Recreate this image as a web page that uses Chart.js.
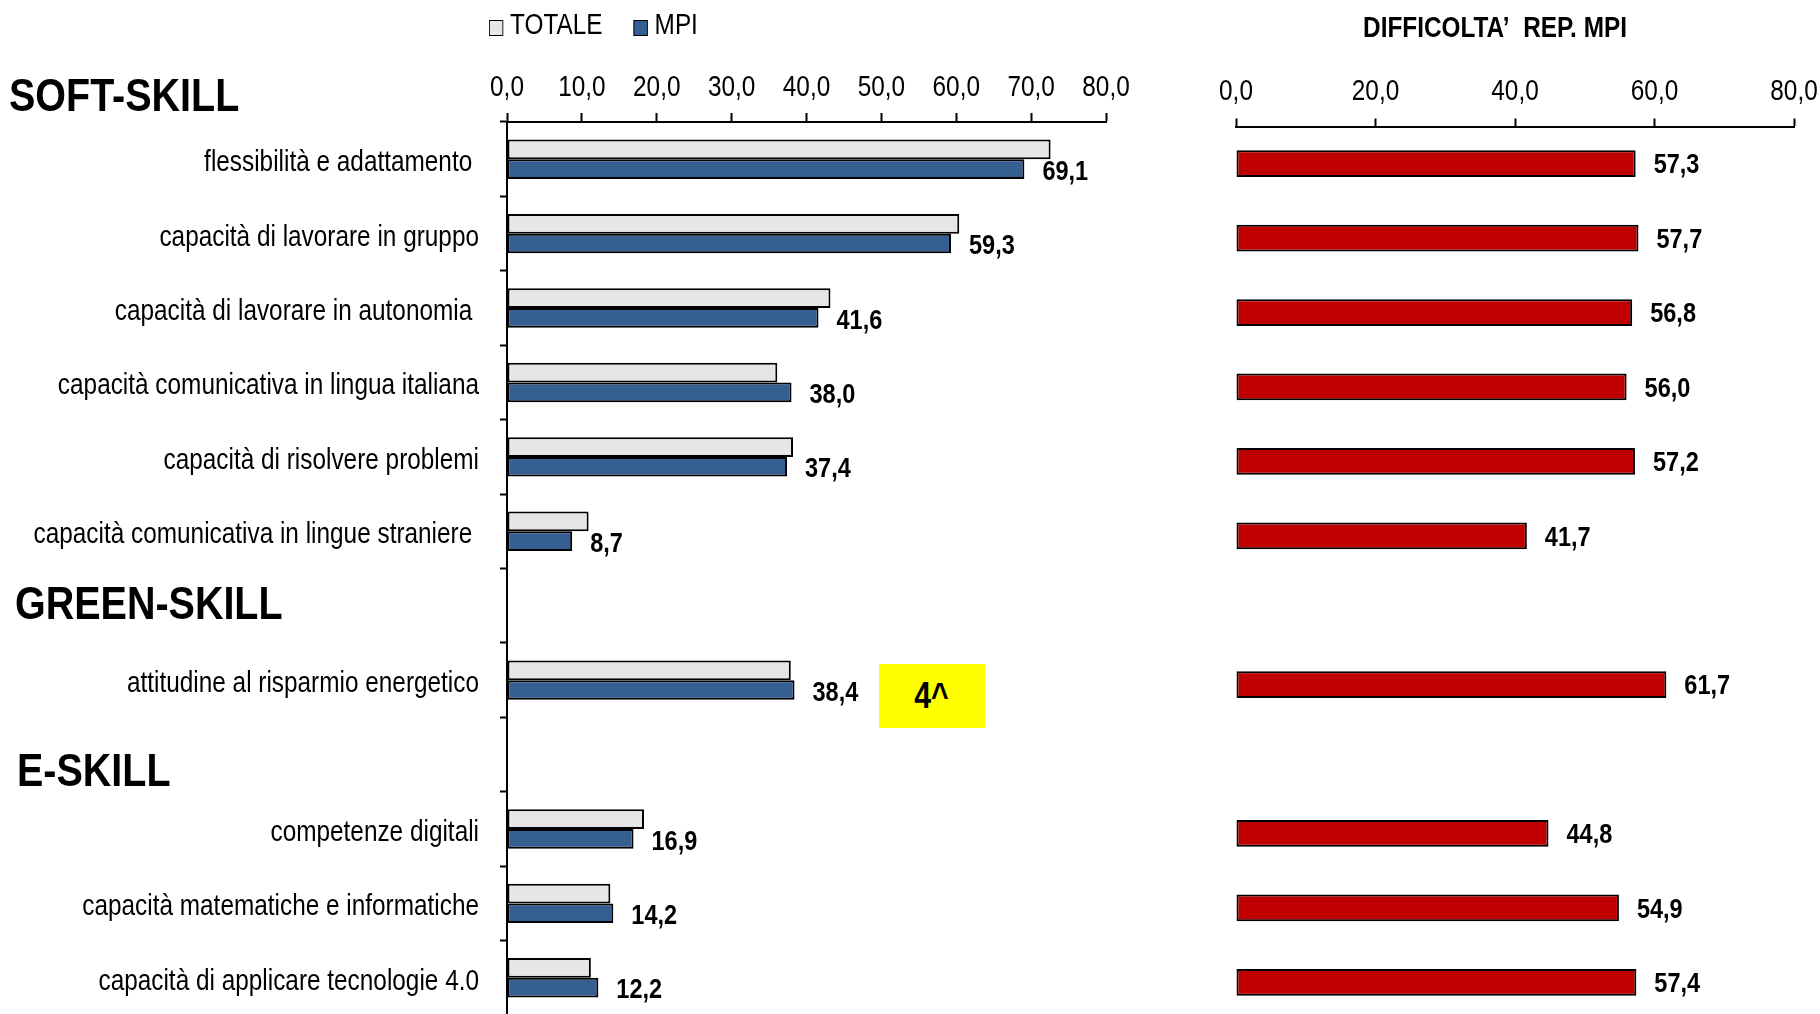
<!DOCTYPE html>
<html lang="it">
<head>
<meta charset="utf-8">
<title>Competenze richieste e difficoltà di reperimento MPI</title>
<script src="https://cdn.jsdelivr.net/npm/chart.js@4.4.1/dist/chart.umd.min.js"></script>
<style>
  html, body { margin: 0; padding: 0; background: #fff; overflow: hidden; }
  body { position: relative; width: 1820px; height: 1014px; color: #000;
         font-family: 'Liberation Sans Narrow', 'Arial Narrow', 'Liberation Sans', Arial, sans-serif; }
  canvas { position: absolute; top: 0; }
  #graficoSx { left: 0; }
  #graficoDx { left: 1150px; }
  /* il carattere "narrow" non c'è: si stringe il testo in orizzontale */
  #legenda { position: absolute; left: 489px; top: 8px; font-size: 29px; line-height: 32px; white-space: nowrap;
             transform: scaleX(0.84); transform-origin: 0 0; }
  #legenda span.voce { display: inline-block; margin-right: 37px; }
  #legenda span.box { display: inline-block; width: 15px; height: 14px; border: 1.5px solid #000;
                      margin-right: 8px; vertical-align: -2px; }
  #rango { position: absolute; left: 879px; top: 664px; width: 106px; height: 64px; background: #ffff00;
           font-weight: bold; font-size: 36px; line-height: 64px; text-align: center; }
  #rango span { display: inline-block; transform: scaleX(0.84); }
</style>
</head>
<body>
<canvas id="graficoSx" width="1146" height="1055"></canvas>
<canvas id="graficoDx" width="684" height="1025"></canvas>
<div id="legenda"></div>
<div id="rango"><span>4^</span></div>
<script>
// Dati (quota % di imprese che richiedono la competenza)
const categorie = [
  'flessibilità e adattamento ',
  'capacità di lavorare in gruppo',
  'capacità di lavorare in autonomia ',
  'capacità comunicativa in lingua italiana',
  'capacità di risolvere problemi',
  'capacità comunicativa in lingue straniere ',
  '',
  'attitudine al risparmio energetico',
  '',
  'competenze digitali',
  'capacità matematiche e informatiche',
  'capacità di applicare tecnologie 4.0'
];
const totale = [72.6, 60.4, 43.2, 36.1, 38.2, 10.9, null, 37.9, null, 18.3, 13.8, 11.2];
const mpi = [69.1, 59.3, 41.6, 38.0, 37.4, 8.7, null, 38.4, null, 16.9, 14.2, 12.2];
const difficoltaMpi = [57.3, 57.7, 56.8, 56.0, 57.2, 41.7, null, 61.7, null, 44.8, 54.9, 57.4];
const sezioni = ['SOFT-SKILL', 'GREEN-SKILL', 'E-SKILL'];
const assexMax = 80;
const passoSx = 10;
const passoDx = 20;

const FONT = "'Liberation Sans Narrow', 'Arial Narrow', 'Liberation Sans', Arial, sans-serif";
const STRETTO = 0.84;

// formato italiano con una cifra decimale
function fmt(v) {
  return Number(v).toFixed(1).replace('.', ',');
}

// testo condensato (simula Arial Narrow) su un contesto canvas
function condensa(ctx, k) {
  const fill = ctx.fillText.bind(ctx);
  const measure = ctx.measureText.bind(ctx);
  ctx.fillText = function (t, x, y, maxW) {
    ctx.save();
    ctx.translate(x, y);
    ctx.scale(k, 1);
    if (maxW !== undefined) fill(t, 0, 0, maxW / k);
    else fill(t, 0, 0);
    ctx.restore();
  };
  ctx.measureText = function (t) {
    const m = measure(t);
    return {
      width: m.width * k,
      actualBoundingBoxAscent: m.actualBoundingBoxAscent,
      actualBoundingBoxDescent: m.actualBoundingBoxDescent,
      actualBoundingBoxLeft: m.actualBoundingBoxLeft * k,
      actualBoundingBoxRight: m.actualBoundingBoxRight * k
    };
  };
  return ctx;
}

// Etichette dei valori a destra delle barre
const etichetteValori = {
  id: 'etichetteValori',
  afterDatasetsDraw(chart, args, opts) {
    const ds = chart.data.datasets[opts.dataset];
    const meta = chart.getDatasetMeta(opts.dataset);
    const ctx = chart.ctx;
    ctx.save();
    ctx.font = 'bold 28px ' + FONT;
    ctx.fillStyle = '#000';
    ctx.textAlign = 'left';
    ctx.textBaseline = 'middle';
    meta.data.forEach((bar, i) => {
      if (ds.data[i] == null) return;
      ctx.fillText(fmt(ds.data[i]), bar.x + opts.offset, bar.y + opts.dy);
    });
    ctx.restore();
  }
};

// Titoli delle sezioni a sinistra
const titoliSezioni = {
  id: 'titoliSezioni',
  afterDraw(chart, args, opts) {
    const ctx = chart.ctx;
    ctx.save();
    ctx.font = 'bold 47px ' + FONT;
    ctx.fillStyle = '#000';
    ctx.textAlign = 'left';
    ctx.textBaseline = 'alphabetic';
    opts.posizioni.forEach((p, i) => ctx.fillText(sezioni[i], p[0], p[1]));
    ctx.restore();
  }
};

const tickFont = { family: FONT, size: 29 };

const ctxSx = condensa(document.getElementById('graficoSx').getContext('2d'), STRETTO);
const graficoSx = new Chart(ctxSx, {
  type: 'bar',
  data: {
    labels: categorie,
    datasets: [
      { label: 'TOTALE', data: totale, backgroundColor: '#e6e6e6', borderColor: '#000', borderWidth: 2, borderSkipped: false },
      { label: 'MPI', data: mpi, backgroundColor: '#355e91', borderColor: '#000', borderWidth: 2, borderSkipped: false }
    ]
  },
  plugins: [etichetteValori, titoliSezioni],
  options: {
    responsive: false,
    animation: false,
    indexAxis: 'y',
    layout: { padding: { left: 0, right: 40, top: 0, bottom: 40 } },
    datasets: { bar: { categoryPercentage: 0.53, barPercentage: 1 } },
    plugins: {
      legend: { display: false },
      tooltip: { enabled: false },
      etichetteValori: { dataset: 1, offset: 18, dy: 3 },
      titoliSezioni: { posizioni: [[9, 111], [15, 619], [17, 786]] }
    },
    scales: {
      x: {
        position: 'top', min: 0, max: assexMax,
        ticks: { stepSize: passoSx, callback: v => fmt(v), color: '#000', font: tickFont, padding: 8, maxRotation: 0, autoSkip: false },
        grid: { drawOnChartArea: false, tickLength: 9, tickWidth: 2, color: '#000' },
        border: { color: '#000', width: 2 },
        afterFit(s) { s.height = 122; }
      },
      y: {
        ticks: { color: '#000', font: tickFont, padding: 21, labelOffset: 4, autoSkip: false },
        grid: { drawOnChartArea: false, tickLength: 7, tickWidth: 2, color: '#000' },
        border: { color: '#000', width: 2 },
        afterFit(s) { s.width = 507; }
      }
    }
  }
});

const ctxDx = condensa(document.getElementById('graficoDx').getContext('2d'), STRETTO);
const graficoDx = new Chart(ctxDx, {
  type: 'bar',
  data: {
    labels: categorie,
    datasets: [
      { label: 'DIFFICOLTA’ REP. MPI', data: difficoltaMpi, backgroundColor: '#c00000', borderColor: '#000', borderWidth: 2, borderSkipped: false }
    ]
  },
  plugins: [etichetteValori],
  options: {
    responsive: false,
    animation: false,
    indexAxis: 'y',
    layout: { padding: { left: 46, right: 40, top: 0, bottom: 5.5 } },
    datasets: { bar: { categoryPercentage: 0.36, barPercentage: 1 } },
    plugins: {
      legend: { display: false },
      tooltip: { enabled: false },
      title: {
        display: true, text: 'DIFFICOLTA’  REP. MPI', color: '#000',
        font: { family: FONT, size: 29, weight: 'bold', lineHeight: 1.2 },
        padding: { top: 12, bottom: 10 }
      },
      etichetteValori: { dataset: 0, offset: 18, dy: 2 }
    },
    scales: {
      x: {
        position: 'top', min: 0, max: assexMax,
        ticks: { stepSize: passoDx, callback: v => fmt(v), color: '#000', font: tickFont, padding: 9, maxRotation: 0, autoSkip: false },
        grid: { drawOnChartArea: false, tickLength: 8, tickWidth: 2, color: '#000' },
        border: { color: '#000', width: 2 },
        afterFit(s) { s.height = 126.5 - 56.8; }
      },
      y: {
        ticks: { display: false },
        grid: { display: false },
        border: { display: false },
        afterFit(s) { s.width = 40; }
      }
    }
  }
});

// Legenda costruita dai dataset del grafico di sinistra
const legenda = document.getElementById('legenda');
graficoSx.data.datasets.forEach(ds => {
  const voce = document.createElement('span');
  voce.className = 'voce';
  const box = document.createElement('span');
  box.className = 'box';
  box.style.background = ds.backgroundColor;
  voce.appendChild(box);
  voce.appendChild(document.createTextNode(ds.label));
  legenda.appendChild(voce);
});
</script>
</body>
</html>
